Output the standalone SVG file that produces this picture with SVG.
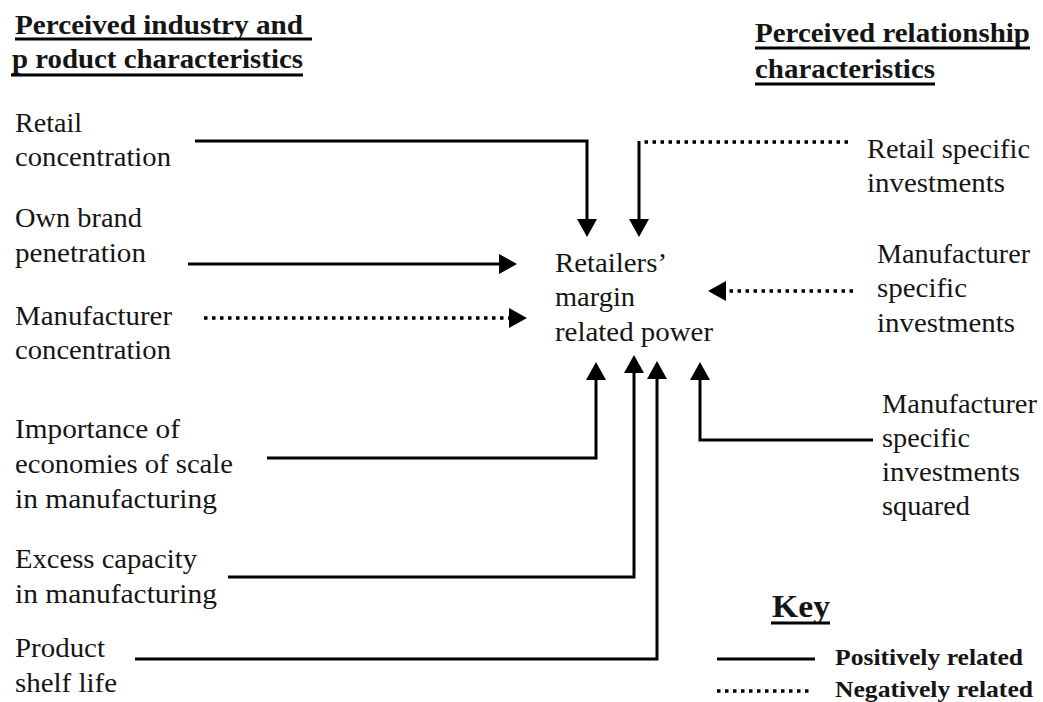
<svg xmlns="http://www.w3.org/2000/svg" width="1043" height="702" viewBox="0 0 1043 702">
<style>
text{font-family:"Liberation Serif","Times New Roman",serif;fill:#151515;}
.lbl{font-size:27px;}
.hdr{font-size:27px;font-weight:bold;}
.key{font-size:24px;font-weight:bold;}
.pos{fill:none;stroke:#000;stroke-width:3;}
.neg{fill:none;stroke:#000;stroke-width:3.5;stroke-dasharray:3.5 4.5;}
.ul{stroke:#000;stroke-width:3;}
</style>
<defs>
<marker id="ah" viewBox="0 0 18 20" refX="12" refY="10" markerWidth="18" markerHeight="20" markerUnits="userSpaceOnUse" orient="auto">
<path d="M0,0 L18,10 L0,20 z" fill="#000"/>
</marker>
</defs>
<rect width="1043" height="702" fill="#fff"/>

<g id="header-left">
<text class="hdr" x="15" y="34" textLength="288" lengthAdjust="spacingAndGlyphs">Perceived industry and</text>
<text class="hdr" x="12" y="68" textLength="291" lengthAdjust="spacingAndGlyphs">p roduct characteristics</text>
<line class="ul" x1="15" y1="39" x2="312" y2="39"/>
<line class="ul" x1="11" y1="75" x2="303" y2="75"/>
</g>
<g id="header-right">
<text class="hdr" x="755" y="42" textLength="275" lengthAdjust="spacingAndGlyphs">Perceived relationship</text>
<text class="hdr" x="755" y="78" textLength="180" lengthAdjust="spacingAndGlyphs">characteristics</text>
<line class="ul" x1="755" y1="48" x2="1030" y2="48"/>
<line class="ul" x1="755" y1="84" x2="935" y2="84"/>
</g>

<g id="retail-concentration">
<text class="lbl" x="15" y="132" textLength="67" lengthAdjust="spacingAndGlyphs">Retail</text>
<text class="lbl" x="15" y="166" textLength="156" lengthAdjust="spacingAndGlyphs">concentration</text>
</g>
<g id="own-brand">
<text class="lbl" x="15" y="227" textLength="127" lengthAdjust="spacingAndGlyphs">Own brand</text>
<text class="lbl" x="15" y="262" textLength="131" lengthAdjust="spacingAndGlyphs">penetration</text>
</g>
<g id="manufacturer-concentration">
<text class="lbl" x="15" y="325" textLength="157" lengthAdjust="spacingAndGlyphs">Manufacturer</text>
<text class="lbl" x="15" y="359" textLength="156" lengthAdjust="spacingAndGlyphs">concentration</text>
</g>
<g id="economies-of-scale">
<text class="lbl" x="15" y="438" textLength="165" lengthAdjust="spacingAndGlyphs">Importance of</text>
<text class="lbl" x="15" y="473" textLength="218" lengthAdjust="spacingAndGlyphs">economies of scale</text>
<text class="lbl" x="15" y="508" textLength="202" lengthAdjust="spacingAndGlyphs">in manufacturing</text>
</g>
<g id="excess-capacity">
<text class="lbl" x="15" y="568" textLength="182" lengthAdjust="spacingAndGlyphs">Excess capacity</text>
<text class="lbl" x="15" y="603" textLength="202" lengthAdjust="spacingAndGlyphs">in manufacturing</text>
</g>
<g id="shelf-life">
<text class="lbl" x="15" y="657" textLength="90" lengthAdjust="spacingAndGlyphs">Product</text>
<text class="lbl" x="15" y="692" textLength="102" lengthAdjust="spacingAndGlyphs">shelf life</text>
</g>

<g id="retailers-power">
<text class="lbl" x="555" y="272" textLength="112" lengthAdjust="spacingAndGlyphs">Retailers’</text>
<text class="lbl" x="555" y="306" textLength="80" lengthAdjust="spacingAndGlyphs">margin</text>
<text class="lbl" x="555" y="341" textLength="158" lengthAdjust="spacingAndGlyphs">related power</text>
</g>

<g id="retail-specific-investments">
<text class="lbl" x="867" y="158" textLength="163" lengthAdjust="spacingAndGlyphs">Retail specific</text>
<text class="lbl" x="867" y="192" textLength="138" lengthAdjust="spacingAndGlyphs">investments</text>
</g>
<g id="manufacturer-specific-investments">
<text class="lbl" x="877" y="263" textLength="153" lengthAdjust="spacingAndGlyphs">Manufacturer</text>
<text class="lbl" x="877" y="297" textLength="90" lengthAdjust="spacingAndGlyphs">specific</text>
<text class="lbl" x="877" y="332" textLength="138" lengthAdjust="spacingAndGlyphs">investments</text>
</g>
<g id="manufacturer-specific-investments-squared">
<text class="lbl" x="882" y="413" textLength="155" lengthAdjust="spacingAndGlyphs">Manufacturer</text>
<text class="lbl" x="882" y="447" textLength="88" lengthAdjust="spacingAndGlyphs">specific</text>
<text class="lbl" x="882" y="481" textLength="138" lengthAdjust="spacingAndGlyphs">investments</text>
<text class="lbl" x="882" y="515" textLength="88" lengthAdjust="spacingAndGlyphs">squared</text>
</g>

<g id="connectors">
<path class="pos" d="M195,141 H587 V231" marker-end="url(#ah)"/>
<path class="neg" d="M848,142 H643"/>
<path class="pos" d="M639,141 V231" marker-end="url(#ah)"/>
<path class="pos" d="M188,264 H511" marker-end="url(#ah)"/>
<path class="neg" d="M204,318 H521" marker-end="url(#ah)"/>
<path class="neg" d="M853,291 H714" marker-end="url(#ah)"/>
<path class="pos" d="M267,458 H596 V368" marker-end="url(#ah)"/>
<path class="pos" d="M228,577 H634 V361" marker-end="url(#ah)"/>
<path class="pos" d="M135,659 H657 V367" marker-end="url(#ah)"/>
<path class="pos" d="M873,440 H700 V368" marker-end="url(#ah)"/>
</g>

<g id="key">
<text x="772" y="617" style="font-size:31px;font-weight:bold" textLength="58" lengthAdjust="spacingAndGlyphs">Key</text>
<line class="ul" x1="771" y1="623" x2="830" y2="623"/>
<path class="pos" d="M717,659 H815"/>
<path class="neg" d="M717,691 H812"/>
<text class="key" x="835" y="665" textLength="188" lengthAdjust="spacingAndGlyphs">Positively related</text>
<text class="key" x="835" y="697" textLength="198" lengthAdjust="spacingAndGlyphs">Negatively related</text>
</g>
</svg>
